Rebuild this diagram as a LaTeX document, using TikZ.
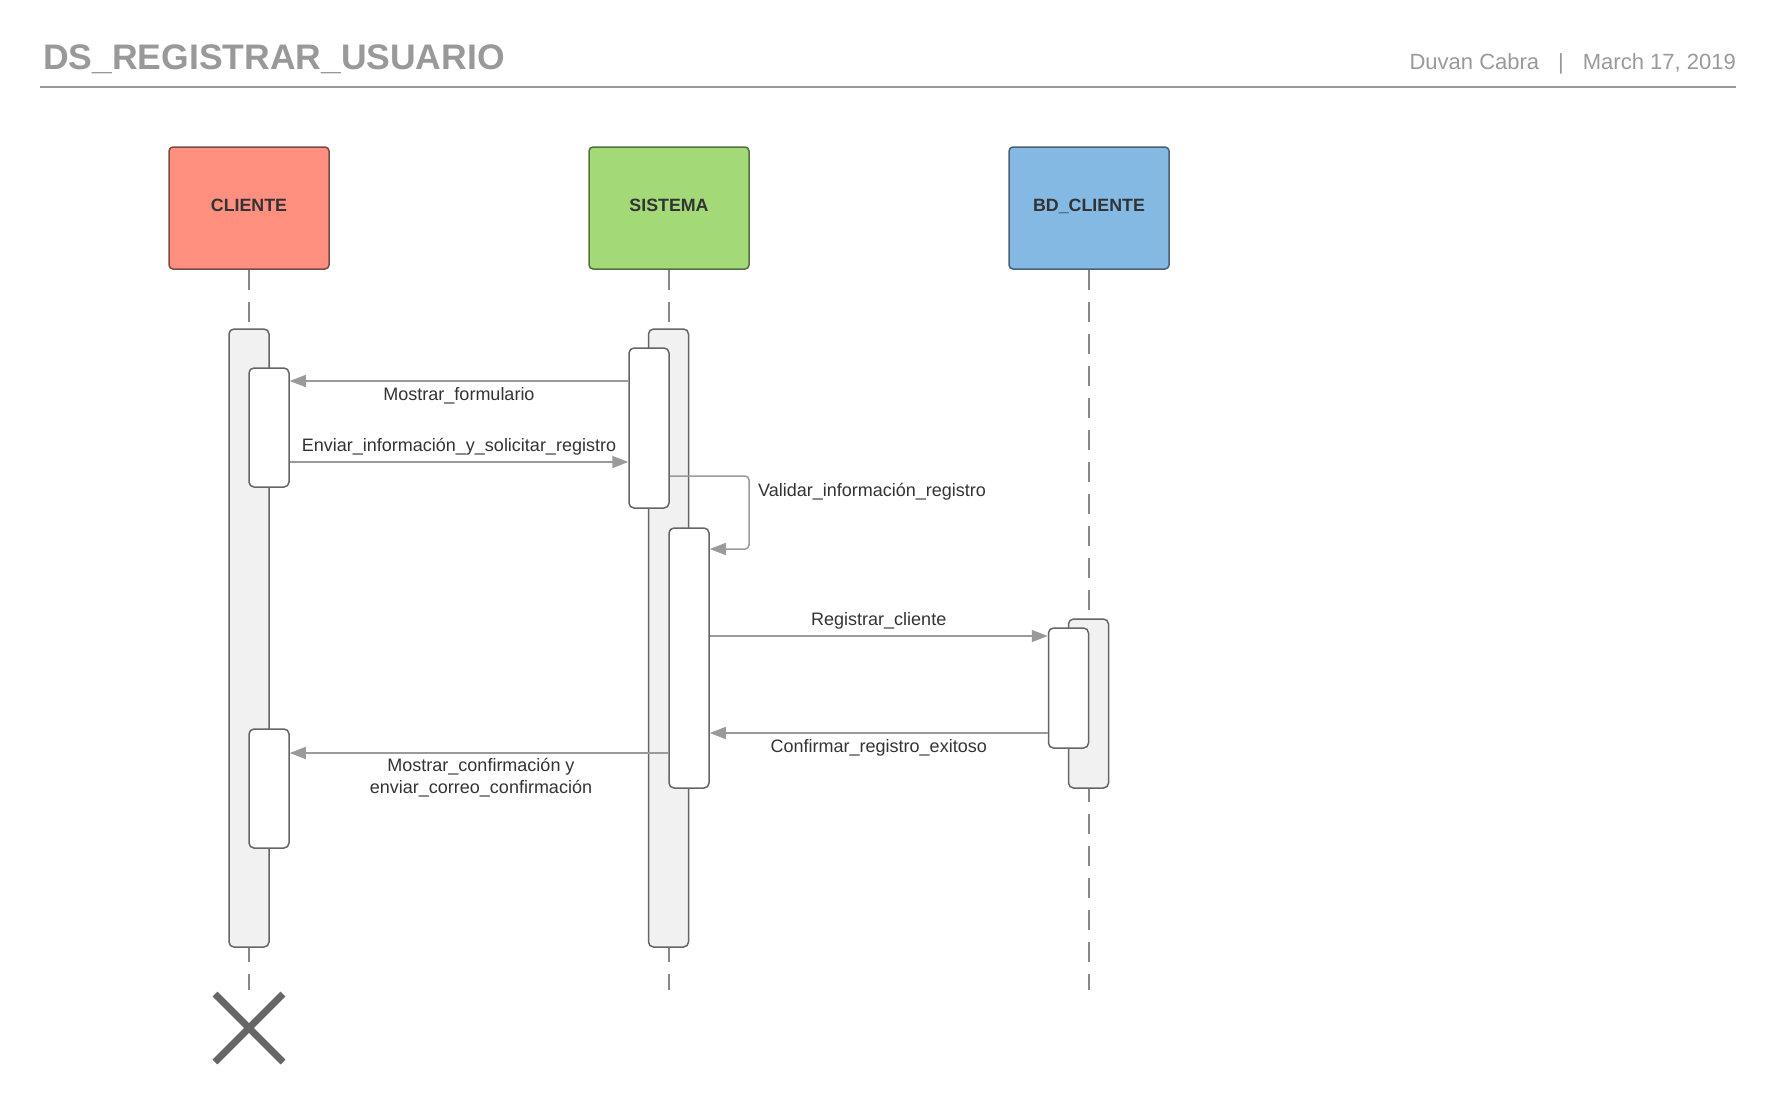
\documentclass[tikz,border=0pt]{standalone}
\usepackage{fontspec}
\setmainfont{Liberation Sans}
\usetikzlibrary{arrows.meta}
\definecolor{titlegray}{HTML}{999999}
\definecolor{txtdark}{HTML}{333333}
\definecolor{arrowgray}{HTML}{9A9A9A}
\definecolor{linegray}{HTML}{888888}
\definecolor{bargray}{HTML}{666666}
\definecolor{barfill}{HTML}{F1F1F1}
\definecolor{clifill}{HTML}{FF8F7F}
\definecolor{cliline}{HTML}{7A4A45}
\definecolor{sisfill}{HTML}{A3D977}
\definecolor{sisline}{HTML}{55703F}
\definecolor{bdfill}{HTML}{83B9E3}
\definecolor{bdline}{HTML}{4A6075}

\begin{document}
\begin{tikzpicture}[x=1pt,y=-1pt,
  head/.style={line width=1.5pt, rounded corners=4pt, minimum width=160pt, minimum height=122pt, text depth=5pt, text=txtdark, font=\bfseries\fontsize{17.8}{20}\selectfont},
  bar/.style={draw=bargray, fill=barfill, line width=1.5pt, rounded corners=5pt, minimum width=40pt, inner sep=0pt},
  act/.style={bar, fill=white},
  life/.style={draw=linegray, line width=1.5pt, dash pattern=on 20pt off 12pt},
  msg/.style={draw=arrowgray, line width=1.5pt, -{Triangle[length=16pt,width=12pt]}},
  lbl/.style={text=txtdark, font=\fontsize{18}{21.5}\selectfont, inner sep=2pt}]
\useasboundingbox (0,0) rectangle (1777,1108);

% header
\node[anchor=base west, inner sep=0, text=titlegray, font=\bfseries\fontsize{35.5}{40}\selectfont] (title) at (43,70) {DS\_REGISTRAR\_USUARIO};
\node[anchor=base east, inner sep=0, text=titlegray, font=\fontsize{22}{26}\selectfont] (author) at (1736,70) {Duvan Cabra\hspace{19pt}|\hspace{19pt}March 17, 2019};
\draw[titlegray, line width=2pt] (40,87) -- (1736,87);

% lifelines
\foreach \nm/\x/\col/\bd/\txt in {cli/249/clifill/cliline/CLIENTE, sis/669/sisfill/sisline/SISTEMA, bd/1089/bdfill/bdline/BD\_CLIENTE} {
 \node[head, fill=\col, draw=\bd] (\nm) at (\x,208) {\txt};
 \coordinate (\nm End) at (\x,990);
 \draw[life] (\nm.south) -- (\nm End);
}

% activations
\node[bar, minimum height=618pt] (cliBar) at (249,638) {};
\node[act, minimum height=119pt] (cliAct1) at (269,427.5) {};
\node[act, minimum height=119pt] (cliAct2) at (269,788.5) {};
\node[bar, minimum height=618pt] (sisBar) at (668.5,638) {};
\node[act, minimum height=160pt] (sisAct1) at (649,428) {};
\node[act, minimum height=260pt] (sisAct2) at (689,658) {};
\node[bar, minimum height=169pt] (bdBar) at (1088.5,703.5) {};
\node[act, minimum height=120pt] (bdAct) at (1068.5,688) {};

% messages
\draw[msg] (sisAct1.west |- 0,381) -- (cliAct1.east |- 0,381) node[lbl, midway, below=3.5pt] {Mostrar\_formulario};
\draw[msg] (cliAct1.east |- 0,462) -- (sisAct1.west |- 0,462) node[lbl, midway, above=4.5pt] {Enviar\_información\_y\_solicitar\_registro};
\draw[msg, rounded corners=4pt] (sisAct1.east |- 0,476) -- (749,476) -- (749,549) -- (sisAct2.east |- 0,549);
\node[lbl, anchor=west] (valLbl) at (756,492) {Validar\_información\_registro};
\draw[msg] (sisAct2.east |- 0,636) -- (bdAct.west |- 0,636) node[lbl, midway, above=4.5pt] {Registrar\_cliente};
\draw[msg] (bdAct.west |- 0,733) -- (sisAct2.east |- 0,733) node[lbl, midway, below=3.5pt] {Confirmar\_registro\_exitoso};
\draw[msg] (sisAct2.west |- 0,753) -- (cliAct2.east |- 0,753) node[lbl, midway, below=2.5pt, align=center, xshift=2pt] {Mostrar\_confirmación y\\enviar\_correo\_confirmación};

% destruction
\coordinate (cliX) at (249,1028);
\draw[bargray, line width=7pt] (cliX) ++(-34,-34) -- ++(68,68);
\draw[bargray, line width=7pt] (cliX) ++(34,-34) -- ++(-68,68);
\end{tikzpicture}
\end{document}
